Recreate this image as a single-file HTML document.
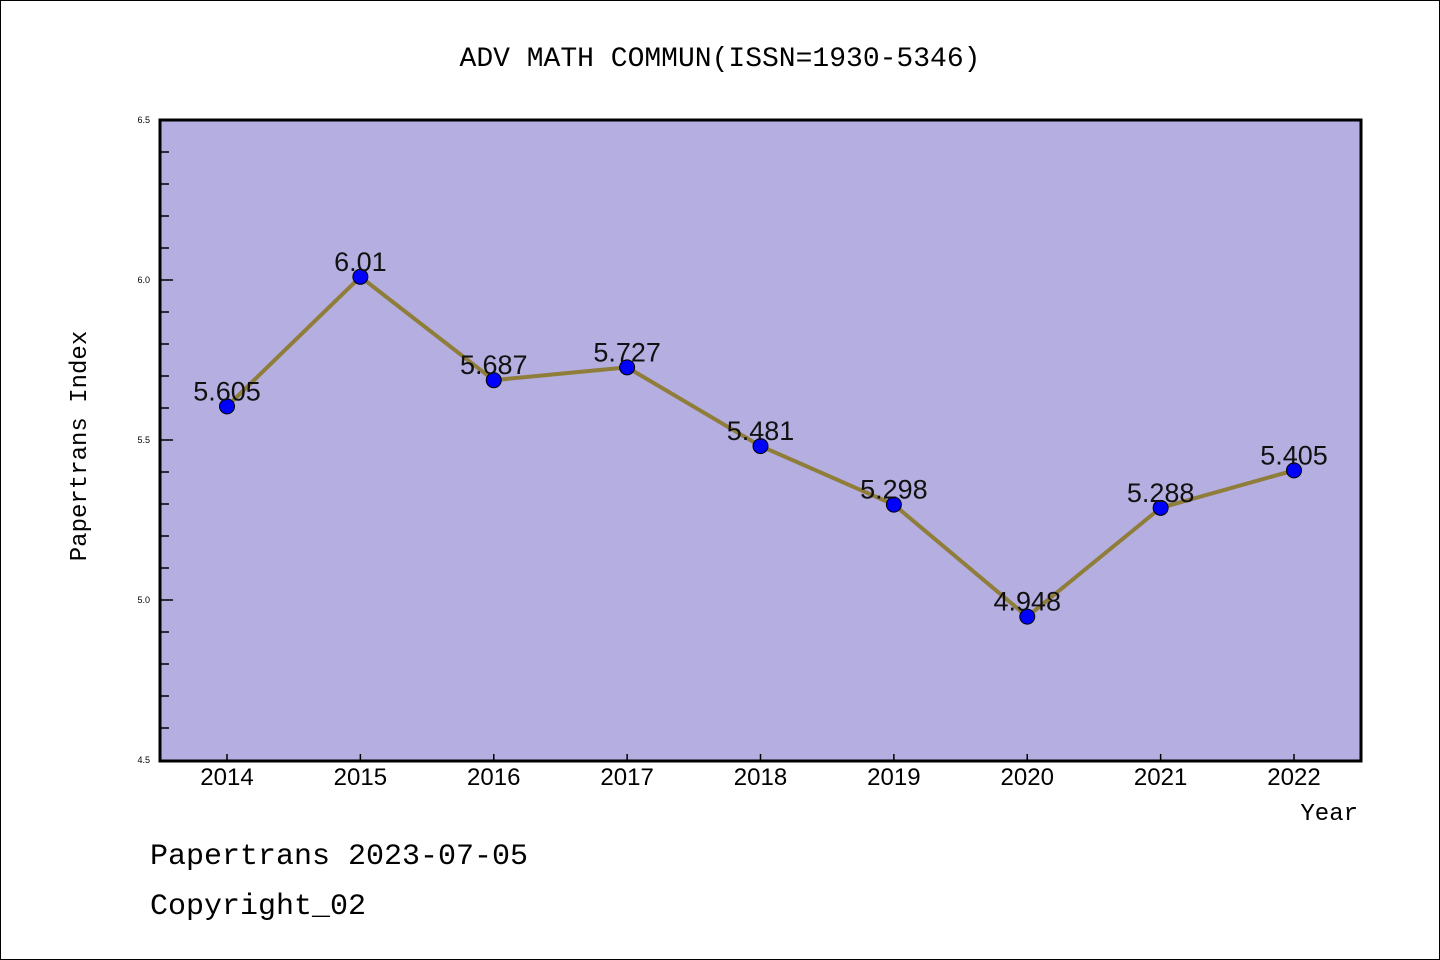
<!DOCTYPE html>
<html><head><meta charset="utf-8"><style>
body{margin:0;background:#fff}
svg{display:block;font-family:"Liberation Sans","WenQuanYi Zen Hei",sans-serif}
.mono{font-family:"Liberation Mono","WenQuanYi Zen Hei",monospace}
</style></head><body>
<svg id="c" width="1440" height="960">
<rect x="0.5" y="0.5" width="1439" height="959" fill="#fff" stroke="#000"/>
<text x="720" y="66" text-anchor="middle" font-size="28" class="mono">ADV MATH COMMUN(ISSN=1930-5346)</text>
<rect x="160" y="120" width="1201" height="641" fill="#b5aee1" stroke="#000" stroke-width="3"/>
<g id="axes"></g>
<g id="series"></g>
<text x="86" y="446" text-anchor="middle" font-size="24" class="mono" transform="rotate(-90 86 446)">Papertrans Index</text>
<text x="1358" y="820" text-anchor="end" font-size="24" class="mono">Year</text>
<text x="150" y="864" font-size="30" class="mono">Papertrans 2023-07-05</text>
<text x="150" y="914" font-size="30" class="mono">Copyright_02</text>
</svg>
<script>
const years=[2014,2015,2016,2017,2018,2019,2020,2021,2022];
const values=[5.605,6.01,5.687,5.727,5.481,5.298,4.948,5.288,5.405];
const labels=["5.605","6.01","5.687","5.727","5.481","5.298","4.948","5.288","5.405"];
const yTicks=["4.5","5.0","5.5","6.0","6.5"];
const NS="http://www.w3.org/2000/svg";
const X=y=>227+(y-2014)*(1294-227)/8;
const Y=v=>760-(v-4.5)*320;
function mk(t,a,p){const e=document.createElementNS(NS,t);for(const k in a)e.setAttribute(k,a[k]);p.appendChild(e);return e;}
const ax=document.getElementById('axes'),se=document.getElementById('series');
for(let i=0;i<=20;i++){const v=4.5+i*0.1;const major=i%5===0;
 if(i>0&&i<20){const t=mk('line',{x1:160,x2:major?173:169,y1:Y(v),y2:Y(v),stroke:'#000','stroke-width':1.5},ax);
 }}
yTicks.forEach(s=>{const t=mk('text',{x:150,y:Y(+s)+3,'text-anchor':'end','font-size':9},ax);t.textContent=s;
 });
years.forEach(y=>{const t=mk('line',{x1:X(y),x2:X(y),y1:760,y2:754,stroke:'#000','stroke-width':1.5},ax);
 
 const l=mk('text',{x:X(y),y:785,'text-anchor':'middle','font-size':24},ax);l.textContent=y;
 });
const line=mk('polyline',{points:years.map((y,i)=>X(y)+','+Y(values[i])).join(' '),fill:'none',stroke:'#8f7d3a','stroke-width':4},se);

years.forEach((y,i)=>{const c=mk('circle',{cx:X(y),cy:Y(values[i]),r:7.5,fill:'#0000ff',stroke:'#000','stroke-width':1},se);
 
 const t=mk('text',{x:X(y),y:Y(values[i])-6,'text-anchor':'middle','font-size':27,fill:'#111'},se);t.textContent=labels[i];
 });
</script>
</body></html>
